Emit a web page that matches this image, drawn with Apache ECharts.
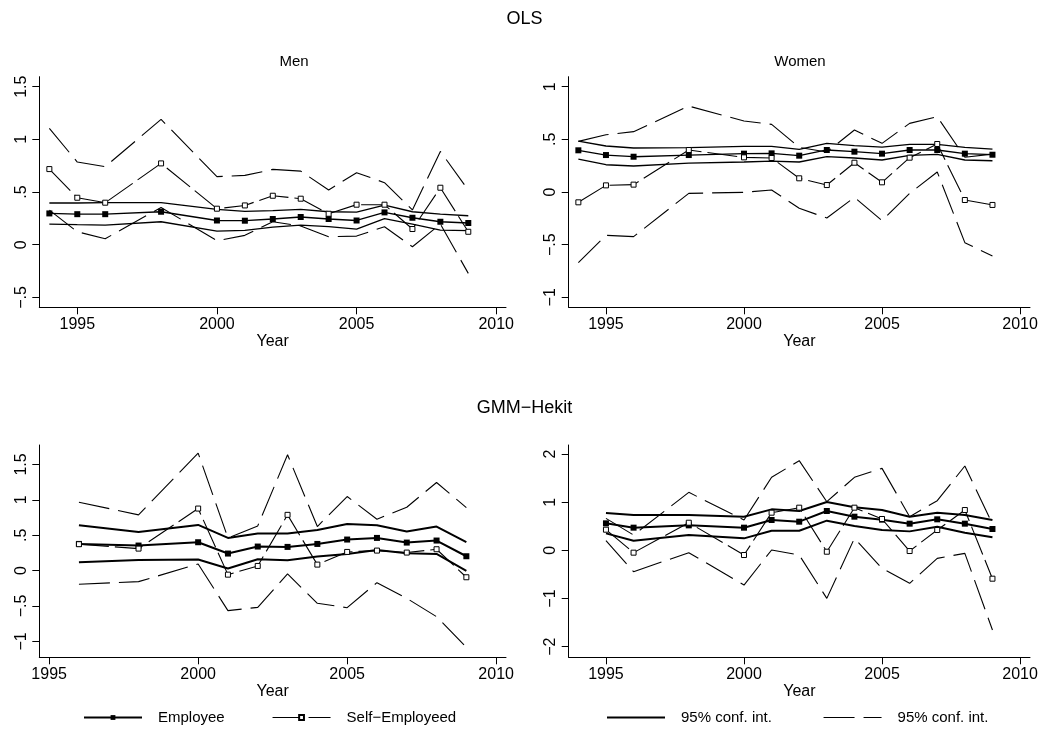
<!DOCTYPE html>
<html><head><meta charset="utf-8">
<script src="https://cdn.jsdelivr.net/npm/echarts@6/dist/echarts.min.js"></script>
<style>html,body{margin:0;padding:0;background:#fff}#c{width:1049px;height:736px}</style>
</head><body><div id="c"></div>
<script>
// ---------- data ----------
const yearsOLS = [1994,1995,1996,1998,2000,2001,2002,2003,2004,2005,2006,2007,2008,2009];
const yearsGmmMen = [1996,1998,2000,2001,2002,2003,2004,2005,2006,2007,2008,2009];
const yearsGmmWomen = [1995,1996,1998,2000,2001,2002,2003,2004,2005,2006,2007,2008,2009];

// OLS, Men
const olsMenEmp   = [0.297,0.29,0.29,0.313,0.23,0.228,0.244,0.263,0.244,0.23,0.307,0.256,0.218,0.206];
const olsMenEmpHi = [0.396,0.396,0.399,0.399,0.335,0.316,0.323,0.335,0.313,0.31,0.377,0.313,0.29,0.275];
const olsMenEmpLo = [0.196,0.19,0.187,0.218,0.13,0.136,0.168,0.187,0.171,0.149,0.247,0.196,0.139,0.133];
const olsMenSe    = [0.718,0.446,0.399,0.772,0.342,0.373,0.465,0.437,0.294,0.38,0.38,0.149,0.541,0.123];
const olsMenSeHi  = [1.104,0.785,0.741,1.19,0.646,0.658,0.715,0.699,0.519,0.684,0.589,0.33,0.886,0.518];
const olsMenSeLo  = [0.329,0.123,0.057,0.354,0.038,0.089,0.218,0.177,0.076,0.082,0.171,-0.019,0.196,-0.272];

// OLS, Women
const olsWomEmp   = [0.396,0.351,0.335,0.351,0.364,0.367,0.345,0.399,0.383,0.364,0.399,0.399,0.364,0.354];
const olsWomEmpHi = [0.484,0.437,0.418,0.421,0.434,0.434,0.405,0.462,0.44,0.427,0.453,0.453,0.424,0.408];
const olsWomEmpLo = [0.313,0.259,0.247,0.275,0.285,0.294,0.285,0.335,0.323,0.304,0.348,0.358,0.304,0.297];
const olsWomSe    = [-0.098,0.063,0.07,0.399,0.329,0.323,0.13,0.066,0.278,0.092,0.326,0.456,-0.076,-0.123];
const olsWomSeHi  = [0.481,0.544,0.573,0.816,0.674,0.642,0.424,0.38,0.589,0.462,0.652,0.715,0.33,0.36];
const olsWomSeLo  = [-0.671,-0.411,-0.424,-0.013,-0.003,0.019,-0.155,-0.247,-0.051,-0.272,-0.013,0.19,-0.481,-0.608];

// GMM-Hekit, Men
const gmmMenEmp   = [0.377,0.354,0.401,0.241,0.34,0.335,0.377,0.439,0.462,0.396,0.425,0.203];
const gmmMenEmpHi = [0.642,0.547,0.646,0.462,0.524,0.524,0.575,0.66,0.642,0.552,0.623,0.401];
const gmmMenEmpLo = [0.118,0.151,0.156,0.03,0.16,0.146,0.198,0.236,0.292,0.245,0.236,-0.005];
const gmmMenSe    = [0.373,0.311,0.877,-0.057,0.066,0.788,0.085,0.264,0.283,0.255,0.302,-0.094];
const gmmMenSeHi  = [0.967,0.788,1.66,0.462,0.632,1.637,0.623,1.047,0.726,0.896,1.245,0.89];
const gmmMenSeLo  = [-0.193,-0.156,0.094,-0.566,-0.519,-0.047,-0.462,-0.524,-0.17,-0.392,-0.651,-1.085];

// GMM-Hekit, Women
const gmmWomEmp   = [0.561,0.471,0.519,0.471,0.63,0.595,0.817,0.699,0.637,0.554,0.644,0.554,0.443];
const gmmWomEmpHi = [0.775,0.734,0.734,0.699,0.851,0.817,1.003,0.893,0.837,0.699,0.782,0.734,0.63];
const gmmWomEmpLo = [0.353,0.201,0.318,0.249,0.408,0.408,0.616,0.505,0.422,0.394,0.491,0.367,0.27];
const gmmWomSe    = [0.429,-0.048,0.574,-0.097,0.782,0.886,-0.028,0.886,0.651,-0.014,0.422,0.837,-0.588];
const gmmWomSeHi  = [0.664,0.318,1.204,0.63,1.516,1.862,1.01,1.516,1.702,0.699,1.031,1.751,0.55];
const gmmWomSeLo  = [0.201,-0.443,-0.048,-0.72,0.007,-0.097,-0.997,0.249,-0.374,-0.685,-0.166,-0.062,-1.654];

// tick labels
const xTicks = [1995, 2000, 2005, 2010];
const yTicksOlsMen = [-0.5, 0, 0.5, 1, 1.5];
const yTicksOlsWom = [-1, -0.5, 0, 0.5, 1];
const yTicksGmmMen = [-1, -0.5, 0, 0.5, 1, 1.5];
const yTicksGmmWom = [-2, -1, 0, 1, 2];

const titleTop = 'OLS';
const titleBottom = 'GMM\u2212Hekit';
const subTitles = ['Men', 'Women'];
const xName = 'Year';
const nameEmp = 'Employee';
const nameSe = 'Self\u2212Employeed';
const nameCi = '95% conf. int.';
const nameCi2 = '95% conf. int. ';

// ---------- layout ----------
const FONT = '"Liberation Sans", Arial, Helvetica, sans-serif';
const panels = [
  {years: yearsOLS, emp: olsMenEmp, hi: olsMenEmpHi, lo: olsMenEmpLo, se: olsMenSe, seHi: olsMenSeHi, seLo: olsMenSeLo,
   grid: {left: 39.3, top: 76.7, width: 466.7, height: 230.6}, x: [1993.64, 2010.35], y: [-0.594, 1.595], yt: yTicksOlsMen, w: 1.3},
  {years: yearsOLS, emp: olsWomEmp, hi: olsWomEmpHi, lo: olsWomEmpLo, se: olsWomSe, seHi: olsWomSeHi, seLo: olsWomSeLo,
   grid: {left: 568.7, top: 76.7, width: 461.3, height: 230.6}, x: [1993.65, 2010.36], y: [-1.095, 1.095], yt: yTicksOlsWom, w: 1.3},
  {years: yearsGmmMen, emp: gmmMenEmp, hi: gmmMenEmpHi, lo: gmmMenEmpLo, se: gmmMenSe, seHi: gmmMenSeHi, seLo: gmmMenSeLo,
   grid: {left: 39.3, top: 445, width: 466.7, height: 212.3}, x: [1994.67, 2010.33], y: [-1.225, 1.775], yt: yTicksGmmMen, w: 2},
  {years: yearsGmmWomen, emp: gmmWomEmp, hi: gmmWomEmpHi, lo: gmmWomEmpLo, se: gmmWomSe, seHi: gmmWomSeHi, seLo: gmmWomSeLo,
   grid: {left: 568.7, top: 445, width: 461.3, height: 212.3}, x: [1993.65, 2010.36], y: [-2.22, 2.187], yt: yTicksGmmWom, w: 2}
];

function fmtY(v) {
  if (v === 0) return '0';
  const s = String(Math.abs(v)).replace(/^0\./, '.');
  return (v < 0 ? '\u2212' : '') + s;
}
const pairs = (xs, ys) => xs.map((x, j) => [x, ys[j]]);
const black = '#000';
const CI_DASH = [31, 9];
const SE_DASH = [30, 6];

const grid = [], xAxis = [], yAxis = [], series = [];
panels.forEach((p, i) => {
  grid.push(Object.assign({containLabel: false}, p.grid));
  xAxis.push({
    type: 'value', gridIndex: i, min: p.x[0], max: p.x[1],
    name: xName, nameLocation: 'middle', nameGap: 25,
    nameTextStyle: {fontFamily: FONT, fontSize: 16, color: black},
    axisLine: {show: true, onZero: false, lineStyle: {color: black, width: 1}},
    axisTick: {show: true, length: 7, inside: false, customValues: xTicks, lineStyle: {color: black, width: 1}},
    axisLabel: {show: true, customValues: xTicks, margin: 9, formatter: v => String(v), fontFamily: FONT, fontSize: 16, color: black},
    splitLine: {show: false}
  });
  yAxis.push({
    type: 'value', gridIndex: i, min: p.y[0], max: p.y[1],
    axisLine: {show: true, onZero: false, lineStyle: {color: black, width: 1}},
    axisTick: {show: true, length: 7, inside: false, customValues: p.yt, lineStyle: {color: black, width: 1}},
    axisLabel: {show: true, customValues: p.yt, rotate: 90, margin: 10, formatter: fmtY, fontFamily: FONT, fontSize: 16, color: black},
    splitLine: {show: false}
  });
  const base = {type: 'line', xAxisIndex: i, yAxisIndex: i, silent: true, animation: false, z: 2};
  series.push(Object.assign({}, base, {name: nameCi, data: pairs(p.years, p.lo), symbol: 'none', itemStyle: {color: black}, lineStyle: {color: black, width: p.w}}));
  series.push(Object.assign({}, base, {name: nameCi, data: pairs(p.years, p.hi), symbol: 'none', itemStyle: {color: black}, lineStyle: {color: black, width: p.w}}));
  series.push(Object.assign({}, base, {name: nameCi2, data: pairs(p.years, p.seLo), symbol: 'none', itemStyle: {color: black}, lineStyle: {color: black, width: 1.1, type: CI_DASH}}));
  series.push(Object.assign({}, base, {name: nameCi2, data: pairs(p.years, p.seHi), symbol: 'none', itemStyle: {color: black}, lineStyle: {color: black, width: 1.1, type: CI_DASH}}));
  series.push(Object.assign({}, base, {name: nameEmp, data: pairs(p.years, p.emp), symbol: 'rect', symbolSize: 6, showSymbol: true,
    itemStyle: {color: black}, lineStyle: {color: black, width: p.w}, z: 3}));
  series.push(Object.assign({}, base, {name: nameSe, data: pairs(p.years, p.se), symbol: 'rect', symbolSize: 5, showSymbol: true,
    itemStyle: {color: '#fff', borderColor: black, borderWidth: 1}, lineStyle: {color: black, width: 1.1, type: SE_DASH}, z: 4}));
});

function legendAt(name, left, lw, hideSymbol) {
  const l = {
    data: [name], left: left, top: 710, padding: 0, orient: 'horizontal',
    itemWidth: 58, itemHeight: 6, selectedMode: false,
    lineStyle: {width: lw},
    textStyle: {fontFamily: FONT, fontSize: 15, color: black, padding: [0, 0, 0, 11]}
  };
  if (hideSymbol) l.itemStyle = {opacity: 0};
  return l;
}
const legend = [
  legendAt(nameEmp, 83, 2, false),
  legendAt(nameSe, 272, 1.1, false),
  legendAt(nameCi, 606, 2, true),
  legendAt(nameCi2, 823, 1.1, true)
];

const txt = (text, x, y, size) => ({type: 'text', x: x, y: y, silent: true,
  style: {text: text, fontFamily: FONT, fontSize: size, fill: black, align: 'center', verticalAlign: 'middle'}});

const chart = echarts.init(document.getElementById('c'), null, {renderer: 'canvas'});
chart.setOption({
  backgroundColor: '#fff',
  animation: false,
  grid, xAxis, yAxis, series, legend,
  graphic: [
    txt(titleTop, 524.5, 19, 18),
    txt(subTitles[0], 294, 62, 15),
    txt(subTitles[1], 800, 62, 15),
    txt(titleBottom, 524.5, 408, 18)
  ]
});
</script></body></html>
